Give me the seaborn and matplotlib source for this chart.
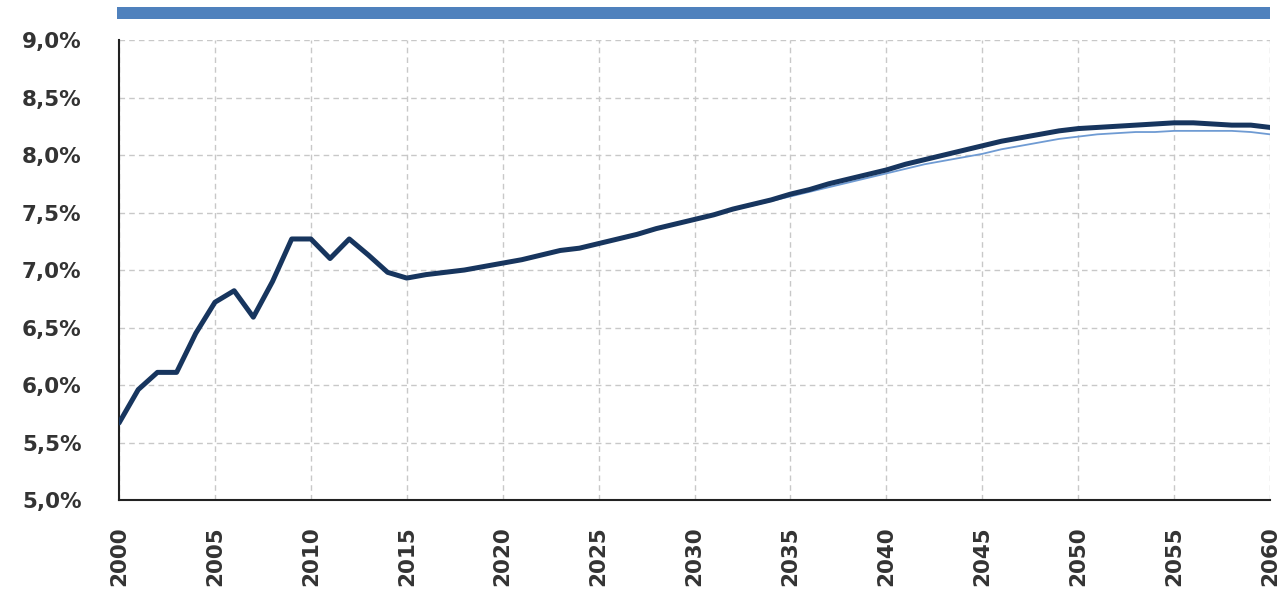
import numpy as np
import pandas as pd
import matplotlib
matplotlib.use("Agg")
import matplotlib.pyplot as plt
import seaborn as sns
from matplotlib.ticker import FuncFormatter
from matplotlib.patches import Rectangle

years = list(range(2000, 2061))

main_series = [
    5.67, 5.96, 6.11, 6.11, 6.45, 6.72, 6.82, 6.59, 6.90, 7.27,
    7.27, 7.10, 7.27, 7.13, 6.98, 6.93, 6.96, 6.98, 7.00, 7.03,
    7.06, 7.09, 7.13, 7.17, 7.19, 7.23, 7.27, 7.31, 7.36, 7.40,
    7.44, 7.48, 7.53, 7.57, 7.61, 7.66, 7.70, 7.75, 7.79, 7.83,
    7.87, 7.92, 7.96, 8.00, 8.04, 8.08, 8.12, 8.15, 8.18, 8.21,
    8.23, 8.24, 8.25, 8.26, 8.27, 8.28, 8.28, 8.27, 8.26, 8.26,
    8.24,
]

alt_series = [
    5.67, 5.96, 6.11, 6.11, 6.45, 6.72, 6.82, 6.59, 6.90, 7.27,
    7.27, 7.10, 7.27, 7.13, 6.98, 6.93, 6.96, 6.98, 7.00, 7.03,
    7.06, 7.09, 7.13, 7.17, 7.19, 7.23, 7.27, 7.31, 7.36, 7.40,
    7.44, 7.48, 7.53, 7.56, 7.60, 7.64, 7.68, 7.72, 7.76, 7.80,
    7.84, 7.88, 7.92, 7.95, 7.98, 8.01, 8.05, 8.08, 8.11, 8.14,
    8.16, 8.18, 8.19, 8.20, 8.20, 8.21, 8.21, 8.21, 8.21, 8.20,
    8.18,
]

x_ticks = list(range(2000, 2061, 5))
y_ticks = [5.0, 5.5, 6.0, 6.5, 7.0, 7.5, 8.0, 8.5, 9.0]

df = pd.DataFrame({"year": years, "main": main_series, "alt": alt_series})

sns.set_style("white")
plt.rcParams["font.family"] = ["DejaVu Sans"]

fig = plt.figure(figsize=(12.87, 5.93), dpi=100)
ax = fig.add_axes([0.0925, 0.1568, 0.8943, 0.7757])

sns.lineplot(data=df, x="year", y="alt", ax=ax, color="#6f9bd3", linewidth=1.3, zorder=3)
sns.lineplot(data=df, x="year", y="main", ax=ax, color="#17355e", linewidth=3.6, zorder=4)

ax.set_xlim(2000, 2060)
ax.set_ylim(5.0, 9.0)
ax.set_xticks(x_ticks)
ax.set_yticks(y_ticks)
ax.yaxis.set_major_formatter(FuncFormatter(lambda v, p: f"{v:.1f}".replace(".", ",") + "%"))
ax.set_xticklabels([str(t) for t in x_ticks], rotation=90)
ax.set_xlabel("")
ax.set_ylabel("")

ax.grid(True, color="#c8c8c8", linestyle=(0, (4, 3)), linewidth=1.0)
ax.set_axisbelow(True)

for s in ["top", "right"]:
    ax.spines[s].set_visible(False)
ax.spines["left"].set_color("#222222")
ax.spines["bottom"].set_color("#222222")
ax.spines["left"].set_linewidth(1.5)
ax.spines["bottom"].set_linewidth(1.5)

ax.tick_params(axis="both", which="major", direction="out", length=6, width=1.5,
               color="#222222", labelcolor="#333333")
ax.tick_params(axis="y", pad=21, labelsize=15.5)
ax.tick_params(axis="x", pad=13, labelsize=15.5)
for lbl in ax.get_xticklabels() + ax.get_yticklabels():
    lbl.set_fontweight("bold")

# truncated title banner
fig.patches.append(Rectangle((117 / 1287, 1 - 19 / 593), (1270 - 117) / 1287, 12 / 593,
                             transform=fig.transFigure, facecolor="#4f81bd",
                             edgecolor="none", figure=fig))

fig.savefig("out.png", dpi=100)
